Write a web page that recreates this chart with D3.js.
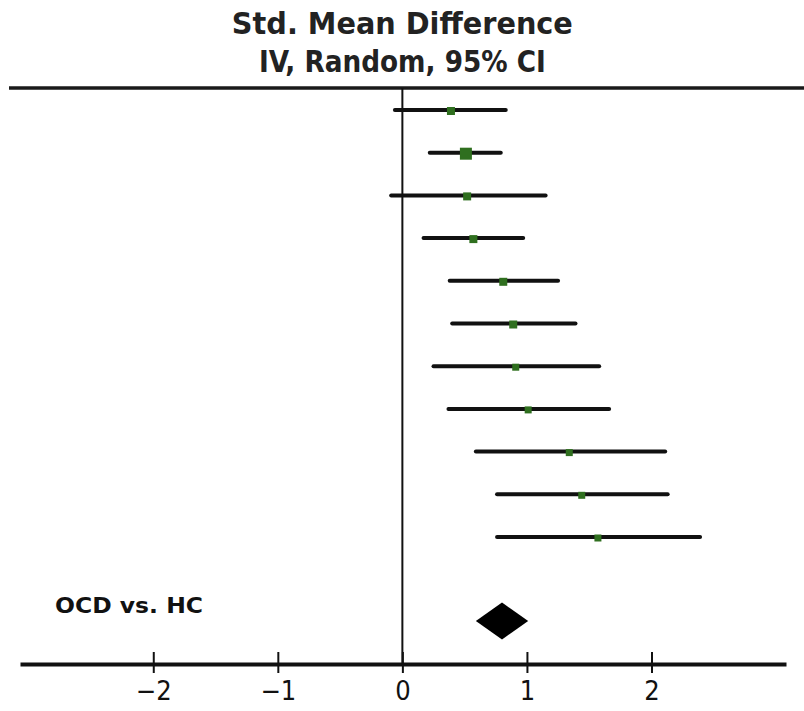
<!DOCTYPE html>
<html>
<head>
<meta charset="utf-8">
<script src="https://cdn.jsdelivr.net/npm/d3@7"></script>
<style>
  html, body { margin: 0; padding: 0; background: #fff; }
  svg { display: block; }
</style>
</head>
<body>
<div id="chart"></div>
<script>
// study estimates (std. mean difference, 95% CI), top to bottom
let estimates = [0.39, 0.51, 0.52, 0.57, 0.81, 0.89, 0.91, 1.01, 1.34, 1.44, 1.57];
let lowers    = [-0.06, 0.22, -0.09, 0.17, 0.38, 0.40, 0.25, 0.37, 0.59, 0.76, 0.76];
let uppers    = [0.83, 0.79, 1.15, 0.97, 1.25, 1.39, 1.58, 1.66, 2.11, 2.13, 2.39];
let weights   = [8, 12, 8, 8, 8, 8, 7, 7, 7, 7, 7];
// pooled
let pooled = {est: 0.80, lo: 0.59, hi: 1.01};
let pooledLabel = "OCD vs. HC";
let tickValues = [-2, -1, 0, 1, 2];
let titleLines = ["Std. Mean Difference", "IV, Random, 95% CI"];

let width = 804, height = 711;
let svg = d3.select("#chart").append("svg")
    .attr("width", width)
    .attr("height", height);

let x = d3.scaleLinear()
    .domain([-3.07, 3.08])
    .range([20, 786]);

let y = d3.scaleLinear()
    .domain([0, estimates.length - 1])
    .range([110, 537]);

let axisY = 664;
let topY = 88;

// title
let titleWidths = [341, 287];
svg.append("g").selectAll("text")
    .data(titleLines)
    .join("text")
    .attr("x", x(0))
    .attr("y", (d, i) => 34 + i * 38)
    .attr("text-anchor", "middle")
    .attr("font-family", "'DejaVu Sans', sans-serif")
    .attr("font-stretch", "condensed")
    .attr("font-weight", "bold")
    .attr("font-size", 30)
    .attr("textLength", (d, i) => titleWidths[i])
    .attr("lengthAdjust", "spacingAndGlyphs")
    .attr("fill", "#222")
    .text(d => d);

// top rule
svg.append("line")
    .attr("x1", 9).attr("x2", width)
    .attr("y1", topY).attr("y2", topY)
    .attr("stroke", "#1a1a1a")
    .attr("stroke-width", 3.5);

// null line
svg.append("line")
    .attr("x1", x(0)).attr("x2", x(0))
    .attr("y1", topY).attr("y2", axisY)
    .attr("stroke", "#111")
    .attr("stroke-width", 2);

// CI lines
let rows = estimates.map((d, i) => ({est: d, lo: lowers[i], hi: uppers[i], w: weights[i], i: i}));

svg.append("g").selectAll("line")
    .data(rows)
    .join("line")
    .attr("x1", d => x(d.lo))
    .attr("x2", d => x(d.hi))
    .attr("y1", d => y(d.i))
    .attr("y2", d => y(d.i))
    .attr("stroke", "#111")
    .attr("stroke-width", 4)
    .attr("stroke-linecap", "round");

svg.append("g").selectAll("rect")
    .data(rows)
    .join("rect")
    .attr("x", d => x(d.est) - d.w / 2)
    .attr("y", d => y(d.i) - d.w / 2 + 1)
    .attr("width", d => d.w)
    .attr("height", d => d.w)
    .attr("fill", "#2f6f1f");

// pooled diamond
let py = 621, ph = 18.5;
svg.append("path")
    .attr("d", `M${x(pooled.lo)},${py} L${x(pooled.est)},${py - ph} L${x(pooled.hi)},${py} L${x(pooled.est)},${py + ph} Z`)
    .attr("fill", "#000");

svg.append("text")
    .attr("x", 55)
    .attr("y", 613)
    .attr("font-family", "'DejaVu Sans', sans-serif")
    .attr("font-weight", "bold")
    .attr("font-size", 21)
    .attr("textLength", 148)
    .attr("lengthAdjust", "spacingAndGlyphs")
    .attr("fill", "#111")
    .text(pooledLabel);

// x axis
let xAxis = svg.append("g")
    .attr("transform", `translate(0, ${axisY})`)
    .call(d3.axisBottom(x)
        .tickValues(tickValues)
        .tickSizeOuter(0)
        .tickSizeInner(10)
        .tickPadding(14)
        .tickFormat(d => d < 0 ? "\u2212" + Math.abs(d) : d));

xAxis.select(".domain")
    .attr("stroke", "#111")
    .attr("stroke-width", 4);
xAxis.selectAll(".tick line")
    .attr("y1", -12)
    .attr("y2", 9)
    .attr("stroke", "#111")
    .attr("stroke-width", 2);
xAxis.selectAll(".tick text")
    .attr("font-family", "'DejaVu Sans', sans-serif")
    .attr("font-stretch", "condensed")
    .attr("font-size", 27)
    .attr("fill", "#111")
    .attr("dy", "0.71em")
    .attr("y", 17);
</script>
</body>
</html>
